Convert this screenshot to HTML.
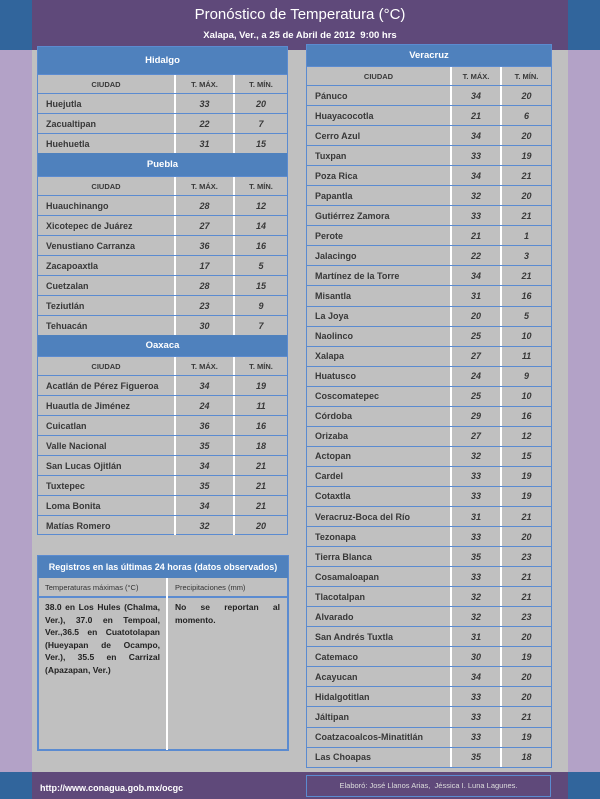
<!DOCTYPE html>
<html><head><meta charset="utf-8"><style>
*{margin:0;padding:0;box-sizing:border-box}
body{width:600px;height:799px;position:relative;background:#c0c0c0;font-family:"Liberation Sans",sans-serif;overflow:hidden}
.a{position:absolute}
.tab{position:absolute;border:1.5px solid #5b8bd0;font-weight:bold;color:#383838;font-size:9px}
.r{display:flex;border-top:1.5px solid #5b8bd0;align-items:center}
.r>div{height:100%;display:flex;align-items:center}
.r>div:nth-child(1){padding-left:8px}
.r>div:nth-child(2),.r>div:nth-child(3){justify-content:center;font-style:italic;border-left:2px solid #fff}
.t{background:#4f81bd;color:#fff;justify-content:center;font-size:9.5px;border-top:none}
.h>div{font-style:normal!important;justify-content:center;font-size:7.5px;padding-left:0!important}
</style></head><body>
<div class="a" style="left:0;top:0;width:600px;height:50px;background:#31659c"></div>
<div class="a" style="left:32px;top:0;width:536px;height:50px;background:#5f497a;color:#fff;text-align:center">
<div style="font-size:15px;margin-top:6px">Pronóstico de Temperatura (°C)</div>
<div style="font-size:9.5px;font-weight:bold;margin-top:7px">Xalapa, Ver., a 25 de Abril de 2012&nbsp; 9:00 hrs</div></div>
<div class="a" style="left:0;top:50px;width:32px;height:722px;background:#b3a2c7"></div>
<div class="a" style="left:568px;top:50px;width:32px;height:722px;background:#b3a2c7"></div>
<div class="a" style="left:0;top:772px;width:600px;height:27px;background:#31659c"></div>
<div class="a" style="left:32px;top:772px;width:536px;height:27px;background:#5f497a"></div>
<div class="a" style="left:40px;top:783px;color:#fff;font-size:9px;font-weight:bold">http://www.conagua.gob.mx/ocgc</div>
<div class="a" style="left:306px;top:775px;width:245px;height:22px;border:1.5px solid #5b8bd0;color:#ddd;font-size:7.5px;text-align:center;line-height:19px">Elaboró: José Llanos Arias,&nbsp; Jéssica I. Luna Lagunes.</div>

<div class="tab" style="left:37px;top:46px;width:251px;height:489px" id="L"></div>
<div class="tab" style="left:306px;top:44px;width:246px;height:724px" id="R"></div>

<div class="a" style="left:37px;top:555px;width:252px;height:196px;border:2px solid #5b8bd0"></div>
<div class="a" style="left:38px;top:556px;width:250px;height:22px;background:#4f81bd;color:#fff;font-size:9px;font-weight:bold;text-align:center;line-height:22px">Registros en las últimas 24 horas (datos observados)</div>
<div class="a" style="left:38px;top:596px;width:250px;height:1.5px;background:#5b8bd0"></div>
<div class="a" style="left:166px;top:578px;width:2px;height:172px;background:#fff"></div>
<div class="a" style="left:45px;top:583px;font-size:7.5px;color:#333">Temperaturas máximas (°C)</div>
<div class="a" style="left:175px;top:583px;font-size:7.5px;color:#333">Precipitaciones (mm)</div>
<div class="a" style="left:45px;top:601px;width:115px;font-size:8.5px;font-weight:bold;color:#222;text-align:justify;line-height:12.5px">38.0 en Los Hules (Chalma, Ver.), 37.0 en Tempoal, Ver.,36.5 en Cuatotolapan (Hueyapan de Ocampo, Ver.), 35.5 en Carrizal (Apazapan, Ver.)</div>
<div class="a" style="left:175px;top:601px;width:105px;font-size:8.5px;font-weight:bold;color:#222;text-align:justify;text-align-last:left;line-height:12.5px">No se reportan al momento.</div>

<script>
function build(id,w,items){
  var el=document.getElementById(id),h='';
  items.forEach(function(it){
    if(it[0]=='T'){h+='<div class="r t" style="height:'+it[2]+'px">'+it[1]+'</div>';}
    else if(it[0]=='H'){h+='<div class="r h" style="height:'+it[1]+'px"><div style="width:'+w[0]+'px">CIUDAD</div><div style="width:'+w[1]+'px">T. MÁX.</div><div style="flex:1">T. MÍN.</div></div>';}
    else {h+='<div class="r" style="height:'+it[3]+'px"><div style="width:'+w[0]+'px">'+it[0]+'</div><div style="width:'+w[1]+'px">'+it[1]+'</div><div style="flex:1">'+it[2]+'</div></div>';}
  });
  el.innerHTML=h;
}
function rows(arr,hh){return arr.map(function(a){return [a[0],a[1],a[2],hh];});}
var L=[['T','Hidalgo',27],['H',19]].concat(rows([['Huejutla',33,20],['Zacualtipan',22,7],['Huehuetla',31,15]],20),
[['T','Puebla',23],['H',19]],rows([['Huauchinango',28,12],['Xicotepec de Juárez',27,14],['Venustiano Carranza',36,16],['Zacapoaxtla',17,5],['Cuetzalan',28,15],['Teziutlán',23,9],['Tehuacán',30,7]],20),
[['T','Oaxaca',21],['H',19]],rows([['Acatlán de Pérez Figueroa',34,19],['Huautla de Jiménez',24,11],['Cuicatlan',36,16],['Valle Nacional',35,18],['San Lucas Ojitlán',34,21],['Tuxtepec',35,21],['Loma Bonita',34,21],['Matías Romero',32,20]],20));
build('L',[136,59],L);
var R=[['T','Veracruz',21],['H',19]].concat(rows([['Pánuco',34,20],['Huayacocotla',21,6],['Cerro Azul',34,20],['Tuxpan',33,19],['Poza Rica',34,21],['Papantla',32,20],['Gutiérrez Zamora',33,21],['Perote',21,1],['Jalacingo',22,3],['Martínez de la Torre',34,21],['Misantla',31,16],['La Joya',20,5],['Naolinco',25,10],['Xalapa',27,11],['Huatusco',24,9],['Coscomatepec',25,10],['Córdoba',29,16],['Orizaba',27,12],['Actopan',32,15],['Cardel',33,19],['Cotaxtla',33,19],['Veracruz-Boca del Río',31,21],['Tezonapa',33,20],['Tierra Blanca',35,23],['Cosamaloapan',33,21],['Tlacotalpan',32,21],['Alvarado',32,23],['San Andrés Tuxtla',31,20],['Catemaco',30,19],['Acayucan',34,20],['Hidalgotitlan',33,20],['Jáltipan',33,21],['Coatzacoalcos-Minatitlán',33,19],['Las Choapas',35,18]],20.05));
build('R',[143,50],R);
</script>
</body></html>
